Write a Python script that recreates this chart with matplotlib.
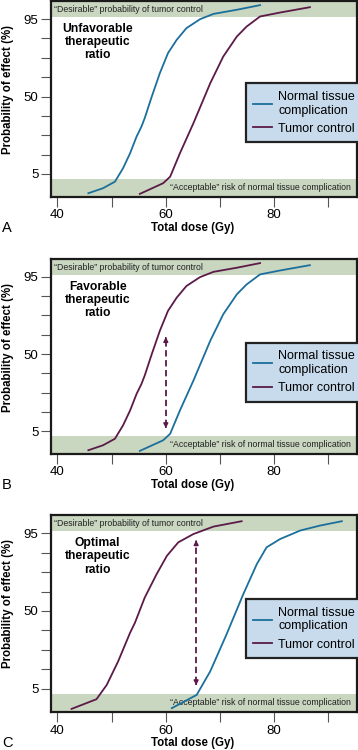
import matplotlib
matplotlib.use("Agg")
import matplotlib.pyplot as plt
from matplotlib.lines import Line2D

plt.rcParams["font.family"] = ["Liberation Sans", "DejaVu Sans"]

# --- data (dose in Gy, probability of effect in %) ---
normal_a_dose = [45.7, 48.4, 50.6, 52.1, 53.4, 54.6, 55.5, 56.1, 57.4, 58.9, 60.4, 62.0, 63.8, 66.3, 68.8, 73.1, 77.4]
normal_a_eff = [-6.2, -3.3, 0.5, 8.3, 17.0, 26.7, 32.5, 37.4, 49.9, 63.6, 75.2, 82.9, 89.7, 94.9, 98.0, 100.4, 103.1]
tumor_a_dose = [55.2, 59.5, 60.8, 62.6, 65.1, 68.2, 70.6, 73.1, 74.9, 77.4, 81.1, 86.6]
tumor_a_eff = [-6.6, -0.4, 3.4, 17.0, 34.5, 57.7, 73.2, 84.8, 90.6, 96.5, 98.8, 101.9]

normal_b_dose = [55.2, 59.5, 60.8, 62.6, 65.1, 68.2, 70.6, 73.1, 74.9, 77.4, 81.1, 86.6]
normal_b_eff = [-6.6, -0.4, 3.4, 17.0, 34.5, 57.7, 73.2, 84.8, 90.6, 96.5, 98.8, 101.9]
tumor_b_dose = [45.7, 48.4, 50.6, 52.1, 53.4, 54.6, 55.5, 56.1, 57.4, 58.9, 60.4, 62.0, 63.8, 66.3, 68.8, 73.1, 77.4]
tumor_b_eff = [-6.2, -3.3, 0.5, 8.3, 17.0, 26.7, 32.5, 37.4, 49.9, 63.6, 75.2, 82.9, 89.7, 94.9, 98.0, 100.4, 103.1]

normal_c_dose = [61.1, 65.7, 68.2, 71.2, 74.3, 76.8, 78.6, 81.1, 84.8, 88.5, 92.5]
normal_c_eff = [-6.2, 1.5, 15.1, 36.4, 59.7, 77.1, 86.8, 91.6, 96.5, 99.4, 101.9]
tumor_c_dose = [42.6, 47.2, 49.1, 51.2, 53.4, 54.3, 56.1, 58.3, 60.2, 62.3, 65.1, 68.8, 74.0]
tumor_c_eff = [-6.6, -1.0, 7.3, 20.9, 37.4, 43.2, 57.7, 71.3, 81.9, 89.7, 94.5, 98.8, 101.9]

# arrows: (dose, from %, to %)
arrow_b = (60.0, 5.0, 61.6)
arrow_c = (65.6, 5.4, 92.6)

x_ticks = [40, 50, 60, 70, 80, 90]
x_labels = ["40", "", "60", "", "80", ""]
y_ticks = [5, 16.25, 27.5, 38.75, 50, 61.25, 72.5, 83.75, 95]
y_labels = ["5", "", "", "", "50", "", "", "", "95"]

titles = ["Unfavorable\ntherapeutic\nratio", "Favorable\ntherapeutic\nratio", "Optimal\ntherapeutic\nratio"]
letters = ["A", "B", "C"]

BLUE = "#1b6f9c"
PURPLE = "#5b1a48"
GREEN = "#c9d6c0"
LEGEND_BG = "#c8dbec"

W, H = 358, 750
fig = plt.figure(figsize=(W / 100, H / 100), dpi=100)

# axes boxes in pixels: (top, bottom)
boxes = [(1, 197), (259, 454), (515, 712)]
ax_left, ax_right = 51, 357

panels = [
    (normal_a_dose, normal_a_eff, tumor_a_dose, tumor_a_eff, None),
    (normal_b_dose, normal_b_eff, tumor_b_dose, tumor_b_eff, arrow_b),
    (normal_c_dose, normal_c_eff, tumor_c_dose, tumor_c_eff, arrow_c),
]

for i, (nd, ne, td, te, arr) in enumerate(panels):
    top, bot = boxes[i]
    ax = fig.add_axes([ax_left / W, 1 - bot / H, (ax_right - ax_left) / W, (bot - top) / H])
    ax.set_xlim(38.8, 95.3)
    ax.set_ylim(-8.4, 105.5)

    # shaded bands
    ax.axhspan(96.3, 110, color=GREEN, lw=0, zorder=0)
    ax.axhspan(-10, 2.0, color=GREEN, lw=0, zorder=0)
    ax.text(39.3, 100.4, "\u201cDesirable\u201d probability of tumor control",
            fontsize=6.3, color="#222222", va="center", ha="left")
    ax.text(94.2, -3.0, "\u201cAcceptable\u201d risk of normal tissue complication",
            fontsize=6.3, color="#222222", va="center", ha="right")

    ax.plot(nd, ne, color=BLUE, lw=1.3, zorder=3)
    ax.plot(td, te, color=PURPLE, lw=1.3, zorder=3)

    if arr is not None:
        x, y0, y1 = arr
        ax.plot([x, x], [y0 + 3, y1 - 3], color=PURPLE, lw=1.3, ls=(0, (3.5, 2)), zorder=4)
        ax.annotate("", xy=(x, y1), xytext=(x, y1 - 4),
                    arrowprops=dict(arrowstyle="-|>", color=PURPLE, lw=1.0, mutation_scale=7))
        ax.annotate("", xy=(x, y0), xytext=(x, y0 + 4),
                    arrowprops=dict(arrowstyle="-|>", color=PURPLE, lw=1.0, mutation_scale=7))

    ax.text(47.4, 81.6, titles[i], fontsize=8.7, fontweight="bold",
            ha="center", va="center", linespacing=1.15)

    handles = [Line2D([], [], color=BLUE, lw=1.3), Line2D([], [], color=PURPLE, lw=1.3)]
    leg_top = {0: 83.3, 1: 342.7, 2: 599.0}[i]
    ly = (bot - leg_top) / (bot - top)
    lx = (245.7 - ax_left) / (ax_right - ax_left)
    leg = ax.legend(handles, ["Normal tissue\ncomplication", "Tumor control"],
                    loc="upper left", bbox_to_anchor=(lx, ly, 1 - lx + 0.02, 0.0),
                    mode="expand", fontsize=9, frameon=True, fancybox=False,
                    handlelength=1.5, handletextpad=0.5, labelspacing=0.5,
                    borderpad=0.6, borderaxespad=0.0)
    frame = leg.get_frame()
    frame.set_facecolor(LEGEND_BG)
    frame.set_edgecolor("#222222")
    frame.set_linewidth(1.6)
    frame.set_alpha(1)

    ax.set_xticks(x_ticks)
    ax.set_xticklabels(x_labels)
    ax.set_yticks(y_ticks)
    ax.set_yticklabels(y_labels)
    ax.tick_params(length=7, width=0.8, color="#555555", labelsize=9.5, pad=2)
    for sp in ax.spines.values():
        sp.set_linewidth(1.6)
        sp.set_color("#1a1a1a")

    fig.text(192.7 / W, 1 - (bot + 31) / H, "Total dose (Gy)", fontsize=8.3,
             fontweight="bold", ha="center", va="center")
    fig.text(8 / W, 1 - (top + 89) / H, "Probability of effect (%)", fontsize=8.3,
             fontweight="bold", ha="center", va="center", rotation=90)
    fig.text(2 / W, 1 - (bot + 31) / H, letters[i], fontsize=10.5,
             ha="left", va="center")

fig.savefig("out.png", dpi=100)
